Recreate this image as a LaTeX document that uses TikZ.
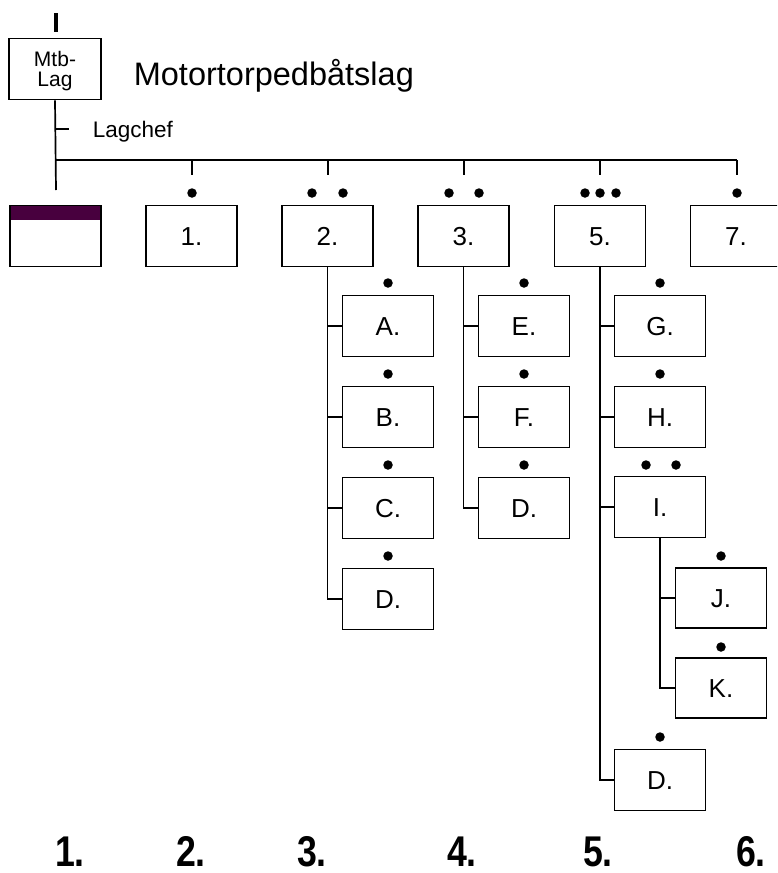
\documentclass[tikz,border=0pt]{standalone}
\usepackage{fontspec}
\setmainfont{Liberation Sans}
\usepackage{tikz}
\definecolor{bandpurple}{RGB}{72,0,62}

\begin{document}
\begin{tikzpicture}[x=1pt, y=-1pt, line width=1.7pt,
    every node/.style={inner sep=0pt},
    unit/.style={draw, minimum width=91pt, minimum height=61pt, text height=18.6pt, text depth=0pt,
        font=\fontsize{26}{28}\selectfont},
    dot/.style={circle, fill, minimum size=9.5pt},
    colnum/.style={anchor=base, font=\fontsize{43}{46}\selectfont\bfseries, xscale=0.83}]
\clip (0,0) rectangle (777,873);
% Draw the head of the tree
\draw[line width=3.5pt] (56,13) -- (56,32);
\node[draw, minimum width=92pt, minimum height=61pt] (lag) at (55,69) {};
\node[font=\fontsize{21}{20}\selectfont, align=center, anchor=base] (lagtext) at (55,86) {Mtb-\\Lag};
\node[anchor=base west, font=\fontsize{32.5}{36}\selectfont] (title) at (133,85) {Motortorpedbåtslag};
\node[anchor=base west, font=\fontsize{22.5}{24}\selectfont] (chef) at (92,137) {Lagchef};
\coordinate (bus) at (56,160);
\coordinate (foot) at (56,190);
\draw (lag.south) -- (foot);
\draw (lag.south |- 0,129) -- ++(14,0);
\draw (bus) -- (737,160);
% Draw the first row
\fill[bandpurple] (10,205) rectangle (101,220);
\node[unit] (b0) at (55.5,236) {};
\node[unit] (b1) at (191.5,236) {1.};
\node[unit] (b2) at (327.5,236) {2.};
\node[unit] (b3) at (463.5,236) {3.};
\node[unit] (b5) at (600,236) {5.};
\node[unit] (b7) at (736,236) {7.};
\foreach \x in {192,328,464,600,737}
    \draw (\x,160) -- (\x,175);
% Draw the sub units
\node[unit] (a)  at (388,326) {A.};
\node[unit] (b)  at (388,417) {B.};
\node[unit] (c)  at (388,508) {C.};
\node[unit] (d2) at (388,599) {D.};
\node[unit] (e)  at (524,326) {E.};
\node[unit] (f)  at (524,417) {F.};
\node[unit] (d3) at (524,508) {D.};
\node[unit] (g)  at (660,326) {G.};
\node[unit] (h)  at (660,417) {H.};
\node[unit] (i)  at (660,507) {I.};
\node[unit, minimum height=60pt] (j)  at (721,598) {J.};
\node[unit, minimum height=60pt] (k)  at (721,688) {K.};
\node[unit] (d5) at (660,780) {D.};
% Draw the branches
\draw (b2.south) |- (d2.west);
\foreach \n in {a,b,c}
    \draw (b2.south |- \n.west) -- (\n.west);
\draw (b3.south) |- (d3.west);
\foreach \n in {e,f}
    \draw (b3.south |- \n.west) -- (\n.west);
\draw (b5.south) |- (d5.west);
\foreach \n in {g,h,i}
    \draw (b5.south |- \n.west) -- (\n.west);
\draw (i.south) |- (k.west);
\draw (i.south |- j.west) -- (j.west);
% Draw the dots
\foreach \x/\y in {192/193, 312/193, 343/193, 449/193, 479/193, 585/193, 600/193, 616/193, 737/193,
    388/283, 388/374, 388/465, 388/556, 524/283, 524/374, 524/465,
    660/283, 660/374, 646/465, 676/465, 721/556, 721/647, 660/737}
    \node[dot] at (\x,\y) {};
% Draw the column numbers
\foreach \x/\t in {70/1, 191/2, 312/3, 462/4, 598/5, 751/6}
    \node[colnum] (col\t) at (\x,866) {\t.};
\end{tikzpicture}
\end{document}
